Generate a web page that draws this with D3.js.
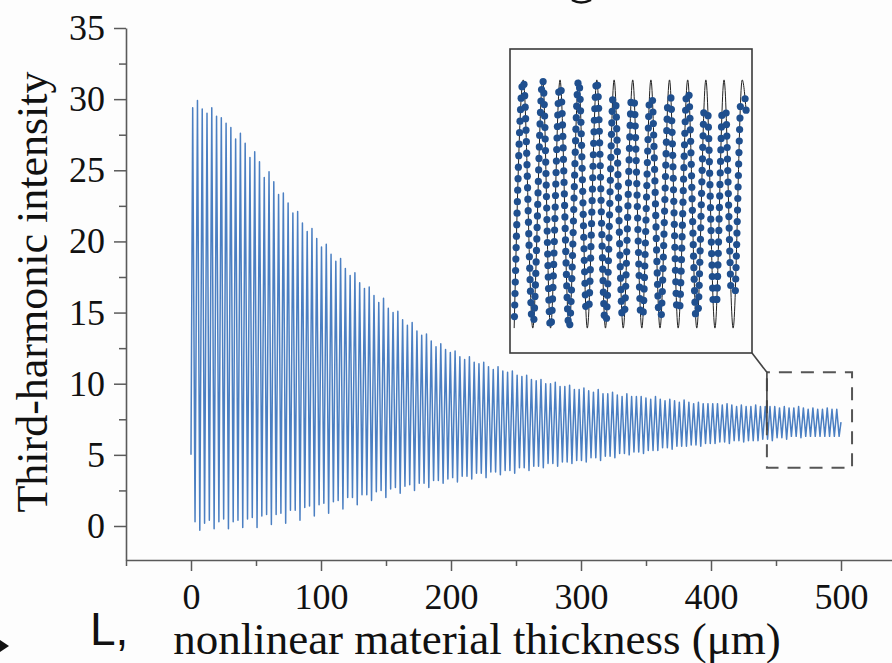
<!DOCTYPE html>
<html>
<head>
<meta charset="utf-8">
<script src="https://cdn.jsdelivr.net/npm/d3@7"></script>
<style>
  html, body { margin: 0; padding: 0; background: #fdfdfd; }
  svg { display: block; }
  text { font-family: "Liberation Serif", "Times New Roman", serif; fill: #111; }
</style>
</head>
<body>
<svg id="chart" width="892" height="663"></svg>
<script>
/* ---------------------- Data ---------------------- */
// fringe positions along thickness (µm)
var firstPeakUm = 1.3, fringePeriodUm = 3.67, troughOffsetUm = 1.8;
var startValue = 5.0, endValue = 7.3, endUm = 500;

// intensity at each fringe maximum / minimum, left to right
var peakValues = [
    29.4, 29.9, 29.3, 29.0, 29.4, 28.8, 28.7, 28.3, 28.0, 27.2,
    27.6, 26.9, 25.9, 26.3, 25.6, 24.5, 24.9, 24.2, 23.3, 23.4,
    22.7, 22.0, 22.1, 21.3, 20.7, 20.9, 20.2, 19.6, 19.8, 19.1,
    18.6, 18.8, 18.1, 17.6, 17.8, 17.1, 16.7, 16.8, 16.2, 15.7,
    16.0, 15.3, 15.0, 15.1, 14.5, 14.1, 14.3, 13.7, 13.4, 13.5,
    13.0, 12.6, 12.8, 12.4, 12.2, 12.3, 11.9, 11.7, 11.9, 11.5,
    11.4, 11.5, 11.2, 11.0, 11.2, 10.9, 10.8, 10.9, 10.6, 10.5,
    10.6, 10.3, 10.2, 10.3, 10.0, 10.0, 10.1, 9.8, 9.8, 9.9,
    9.6, 9.6, 9.7, 9.5, 9.4, 9.6, 9.3, 9.3, 9.4, 9.2,
    9.1, 9.3, 9.1, 9.1, 9.1, 9.0, 8.9, 9.1, 8.9, 8.8,
    8.9, 8.8, 8.7, 8.85, 8.7, 8.6, 8.7, 8.6, 8.6, 8.6,
    8.6, 8.5, 8.6, 8.5, 8.4, 8.5, 8.4, 8.4, 8.5, 8.4,
    8.4, 8.4, 8.4, 8.3, 8.4, 8.3, 8.3, 8.4, 8.3, 8.2,
    8.3, 8.2, 8.2, 8.3, 8.2, 8.2
];
var troughValues = [
    0.3, -0.3, 0.2, 0.4, -0.2, 0.3, 0.5, -0.2, 0.3, 0.4,
    -0.1, 0.5, 0.6, -0.1, 0.7, 0.8, 0.1, 0.8, 0.9, 0.2,
    1.1, 1.1, 0.4, 1.3, 1.4, 0.7, 1.5, 1.6, 0.9, 1.7,
    1.8, 1.2, 2.0, 2.0, 1.5, 2.2, 2.2, 1.8, 2.4, 2.5,
    2.0, 2.6, 2.7, 2.3, 2.8, 2.9, 2.5, 3.0, 3.0, 2.7,
    3.2, 3.2, 3.0, 3.3, 3.4, 3.1, 3.5, 3.5, 3.3, 3.7,
    3.7, 3.4, 3.8, 3.8, 3.6, 3.9, 3.9, 3.7, 4.1, 4.1,
    3.9, 4.2, 4.2, 4.1, 4.4, 4.4, 4.2, 4.5, 4.5, 4.4,
    4.6, 4.6, 4.5, 4.8, 4.8, 4.6, 4.9, 4.9, 4.8, 5.1,
    5.1, 5.0, 5.2, 5.2, 5.1, 5.3, 5.3, 5.3, 5.5, 5.5,
    5.4, 5.6, 5.6, 5.6, 5.7, 5.7, 5.6, 5.8, 5.8, 5.8,
    5.9, 5.9, 5.8, 6.0, 6.0, 5.9, 6.0, 6.0, 6.0, 6.1,
    6.1, 6.0, 6.2, 6.2, 6.1, 6.3, 6.3, 6.2, 6.3, 6.3,
    6.3, 6.3, 6.3, 6.3, 6.3, 6.3
];

var xTicks = [0, 100, 200, 300, 400, 500];
var xMinorTicks = [-50, 50, 150, 250, 350, 450];
var yTicks = [0, 5, 10, 15, 20, 25, 30, 35];
var yMinorTicks = [2.5, 7.5, 12.5, 17.5, 22.5, 27.5, 32.5];

// inset: fit (line) and measured points (dots) near the end of the scan
var insetPeakUm = [447.6, 452.1, 456.1, 460.4, 464.6, 468.6, 472.9, 477.1, 481.4, 485.6, 489.8, 494.0, 498.2];
var insetTroughUm = [445.5, 449.8, 453.9, 458.2, 462.4, 466.6, 470.7, 475.0, 479.2, 483.4, 487.7, 491.9, 496.1];
var insetFitMax = 7.22, insetFitMin = 5.18;
var insetDotMax = [7.2, 7.22, 7.16, 7.2, 7.2, 7.07, 7.11, 7.07, 7.08, 7.1, 7.0, 7.0, 7.03];
var insetDotMin = [5.18, 5.22, 5.19, 5.19, 5.29, 5.22, 5.27, 5.26, 5.27, 5.29, 5.29, 5.37, 5.47];
var insetEnd = [499.1, 6.97];

// dashed window on the main plot that the inset enlarges
var zoomWindow = {um: [443, 508.5], value: [4.1, 10.8]};

/* ---------------------- Layout ---------------------- */
var plot = {left: 126, right: 893, top: 28, bottom: 560};
var insetBox = {x0: 510, y0: 49, x1: 752, y1: 353};
var colors = {line: "#4b7fc2", axis: "#5a5a5a", dot: "#1f4f8e", fit: "#222"};

var svg = d3.select("#chart");

var xScale = d3.scaleLinear().domain([-50, 540]).range([plot.left, plot.right]);
var yScale = d3.scaleLinear().domain([-2.39, 35]).range([plot.bottom, plot.top]);

drawAxes();
drawSeries();
drawInset();
drawExtras();

function drawAxes() {
    // x axis
    var gx = svg.append("g")
        .attr("transform", `translate(0, ${plot.bottom})`)
        .attr("color", colors.axis);
    gx.call(d3.axisBottom(xScale).tickValues(xTicks).tickSize(11).tickPadding(12).tickSizeOuter(0));
    gx.append("g")
        .call(d3.axisBottom(xScale).tickValues(xMinorTicks).tickSize(6).tickFormat(""))
        .select(".domain").remove();

    // y axis
    var gy = svg.append("g")
        .attr("transform", `translate(${plot.left}, 0)`)
        .attr("color", colors.axis);
    gy.call(d3.axisLeft(yScale).tickValues(yTicks).tickSize(12).tickPadding(9).tickSizeOuter(0));
    gy.append("g")
        .call(d3.axisLeft(yScale).tickValues(yMinorTicks).tickSize(7).tickFormat(""))
        .select(".domain").remove();

    svg.selectAll(".domain").attr("stroke-width", 1.6);
    svg.selectAll(".tick line").attr("stroke-width", 1.5);
    svg.selectAll(".tick text").attr("font-size", 36).attr("fill", "#111");

    // axis titles
    svg.append("text")
        .attr("x", 477)
        .attr("y", 654)
        .attr("text-anchor", "middle")
        .attr("font-size", 45)
        .text("nonlinear material thickness (\u03bcm)");

    svg.append("text")
        .attr("transform", "translate(47, 292) rotate(-90)")
        .attr("text-anchor", "middle")
        .attr("font-size", 44)
        .text("Third-harmonic intensity");
}

function drawSeries() {
    var series = [{um: 0, v: startValue}];
    peakValues.forEach(function(p, i) {
        var x = firstPeakUm + i * fringePeriodUm;
        series.push({um: x, v: p});
        series.push({um: x + troughOffsetUm, v: troughValues[i]});
    });
    series.push({um: endUm, v: endValue});

    var line = d3.line()
        .x(d => xScale(d.um))
        .y(d => yScale(d.v));

    svg.append("path")
        .datum(series)
        .attr("d", line)
        .attr("fill", "none")
        .attr("stroke", colors.line)
        .attr("stroke-width", 1.5)
        .attr("stroke-linejoin", "round");

    // dashed window + connector to the inset
    var wx0 = xScale(zoomWindow.um[0]), wx1 = xScale(zoomWindow.um[1]);
    var wy0 = yScale(zoomWindow.value[1]), wy1 = yScale(zoomWindow.value[0]);
    svg.append("rect")
        .attr("x", wx0).attr("y", wy0)
        .attr("width", wx1 - wx0).attr("height", wy1 - wy0)
        .attr("fill", "none")
        .attr("stroke", "#555")
        .attr("stroke-width", 2)
        .attr("stroke-dasharray", "13,9")
        .attr("stroke-dashoffset", -12);
    svg.append("path")
        .attr("d", `M${insetBox.x1},${insetBox.y1}L${wx0},${wy0}L${wx0},${wy0 + 58}`)
        .attr("fill", "none")
        .attr("stroke", "#444")
        .attr("stroke-width", 1.6);
}

function drawInset() {
    var insetX = d3.scaleLinear().domain([445, 500]).range([insetBox.x0 + 2, insetBox.x1 - 2]);
    var insetY = d3.scaleLinear().domain([5.0, 7.4]).range([350, 58]);

    var g = svg.append("g").attr("class", "inset");
    g.append("rect")
        .attr("x", insetBox.x0).attr("y", insetBox.y0)
        .attr("width", insetBox.x1 - insetBox.x0)
        .attr("height", insetBox.y1 - insetBox.y0)
        .attr("fill", "#fdfdfd")
        .attr("stroke", "#3a3a3a")
        .attr("stroke-width", 1.6);

    var fitPoints = [];
    insetPeakUm.forEach(function(p, i) {
        fitPoints.push({um: insetTroughUm[i], v: insetFitMin, kind: "trough", k: i});
        fitPoints.push({um: p, v: insetFitMax, kind: "peak", k: i});
    });
    fitPoints.push({um: insetEnd[0], v: insetEnd[1], kind: "end"});

    var fitLine = d3.line()
        .x(d => insetX(d.um))
        .y(d => insetY(d.v))
        .curve(d3.curveMonotoneX);

    var fitPath = g.append("path")
        .attr("d", fitLine(fitPoints))
        .attr("fill", "none")
        .attr("stroke", colors.fit)
        .attr("stroke-width", 1);

    // measured points sit on the fit, evenly along the trace
    var node = fitPath.node(), total = node.getTotalLength();
    var dots = [];
    for (var s = 0; s <= total; s += 11.5) {
        var pt = node.getPointAtLength(s);
        var nearest = fitPoints.reduce((a, b) =>
            Math.abs(insetX(b.um) - pt.x) < Math.abs(insetX(a.um) - pt.x) ? b : a);
        var val = insetY.invert(pt.y);
        if (nearest.kind == "peak" && val > insetDotMax[nearest.k]) continue;
        if (nearest.kind == "trough" && val < insetDotMin[nearest.k]) continue;
        dots.push(pt);
    }

    g.selectAll("circle")
        .data(dots)
        .join("circle")
        .attr("cx", d => d.x)
        .attr("cy", d => d.y)
        .attr("r", 3.6)
        .attr("fill", colors.dot);
}

function drawExtras() {
    // fragments of the neighbouring figure panels
    svg.append("text")
        .attr("x", 90).attr("y", 645)
        .style("font-family", "'Liberation Sans', Arial, sans-serif")
        .attr("font-size", 46)
        .text("L,");
    svg.append("path")
        .attr("d", "M0,640L9,646L0,652Z")
        .attr("fill", "#111");
    svg.append("path")
        .attr("d", "M572,0Q581,5 591,0")
        .attr("fill", "none")
        .attr("stroke", "#111")
        .attr("stroke-width", 2.5);
}
</script>
</body>
</html>
